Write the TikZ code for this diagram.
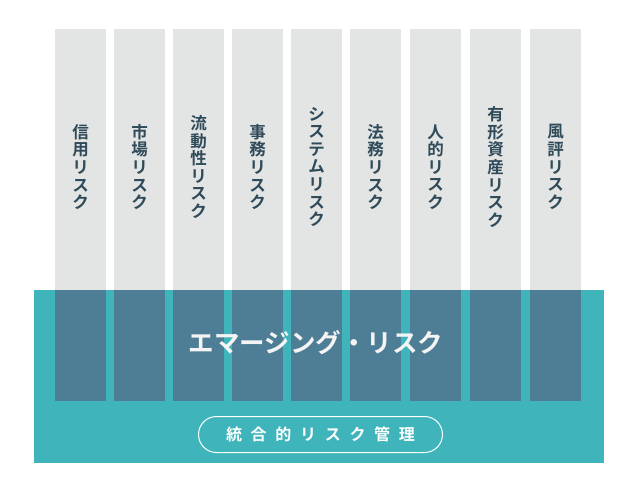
\documentclass[tikz,border=0pt]{standalone}
\usepackage{fontspec}
\setmainfont{Noto Sans CJK JP}[BoldFont={Noto Sans CJK JP Bold}]
\definecolor{colgrey}{HTML}{E3E4E4}
\definecolor{bandteal}{HTML}{3FB5BB}
\definecolor{overlay}{HTML}{4E7E96}
\definecolor{labeltext}{HTML}{2F4A58}
\definecolor{whitetext}{HTML}{F4F4F4}
\tikzset{
  colbox/.style={fill=colgrey, draw=none, minimum width=51pt, minimum height=372pt, inner sep=0pt},
  overbox/.style={fill=overlay, draw=none, minimum width=51pt, minimum height=111pt, inner sep=0pt},
  vlabel/.style={text=labeltext, align=center, inner sep=0pt, font=\bfseries\fontsize{16.5}{17.6}\selectfont},
  bandbox/.style={fill=bandteal, draw=none, minimum width=570pt, minimum height=173pt, inner sep=0pt},
  emlabel/.style={text=whitetext, inner sep=0pt, font=\bfseries\fontsize{25.5}{28}\selectfont},
  pill/.style={draw=white, line width=1pt, rounded corners=18pt, minimum width=244pt, minimum height=36pt, inner sep=0pt, text=white, font=\bfseries\fontsize{16}{18}\selectfont}
}
\newcommand{\gapch}{\hspace{8.7pt}}
\begin{document}
\begin{tikzpicture}[x=1pt,y=-1pt]
\useasboundingbox (0,0) rectangle (640,480);
\fill[white] (0,0) rectangle (640,480);
% columns
\node[colbox] (c1) at (80.5,215) {};
\node[colbox] (c2) at (139.5,215) {};
\node[colbox] (c3) at (198.5,215) {};
\node[colbox] (c4) at (257.5,215) {};
\node[colbox] (c5) at (316.5,215) {};
\node[colbox] (c6) at (375.5,215) {};
\node[colbox] (c7) at (435.5,215) {};
\node[colbox] (c8) at (495.5,215) {};
\node[colbox] (c9) at (555.5,215) {};
% band
\node[bandbox] (band) at (319,376.5) {};
% overlays
\node[overbox] (o1) at (80.5,345.5) {};
\node[overbox] (o2) at (139.5,345.5) {};
\node[overbox] (o3) at (198.5,345.5) {};
\node[overbox] (o4) at (257.5,345.5) {};
\node[overbox] (o5) at (316.5,345.5) {};
\node[overbox] (o6) at (375.5,345.5) {};
\node[overbox] (o7) at (435.5,345.5) {};
\node[overbox] (o8) at (495.5,345.5) {};
\node[overbox] (o9) at (555.5,345.5) {};
% labels
\node[vlabel] (l1) at (80.5,167) {信\\用\\リ\\ス\\ク};
\node[vlabel] (l2) at (139.5,167) {市\\場\\リ\\ス\\ク};
\node[vlabel] (l3) at (198.5,167) {流\\動\\性\\リ\\ス\\ク};
\node[vlabel] (l4) at (257.5,167) {事\\務\\リ\\ス\\ク};
\node[vlabel] (l5) at (316.5,167) {シ\\ス\\テ\\ム\\リ\\ス\\ク};
\node[vlabel] (l6) at (375.5,167) {法\\務\\リ\\ス\\ク};
\node[vlabel] (l7) at (435.5,167) {人\\的\\リ\\ス\\ク};
\node[vlabel] (l8) at (495.5,167) {有\\形\\資\\産\\リ\\ス\\ク};
\node[vlabel] (l9) at (555.5,167) {風\\評\\リ\\ス\\ク};
% emerging
\node[emlabel] (em) at (316,343) {エマージング・リスク};
% pill
\node[pill] (core) at (320.5,434.5) {統\gapch 合\gapch 的\gapch リ\gapch ス\gapch ク\gapch 管\gapch 理};
\end{tikzpicture}
\end{document}
